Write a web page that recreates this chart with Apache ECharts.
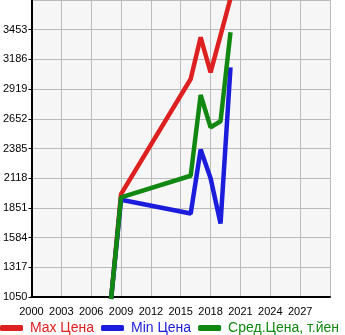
<!DOCTYPE html>
<html><head><meta charset="utf-8">
<script src="https://cdn.jsdelivr.net/npm/echarts@6/dist/echarts.min.js"></script>
<style>html,body{margin:0;padding:0;background:#fff}#c{width:345px;height:335px}</style>
</head><body><div id="c"></div>
<script>
const years = [2008, 2009, 2016, 2017, 2018, 2019, 2020];
const maxPrice = [1030, 1975, 3010, 3385, 3070, null, 3735];
const minPrice = [1030, 1925, 1800, 2375, 2118, 1710, 3115];
const avgPrice = [1030, 1945, 2140, 2866, 2575, 2630, 3430];
const seriesNames = ['Max Цена', 'Min Цена', 'Сред.Цена, т.йен'];
const colors = ['#dd2020', '#1c1cdd', '#118811'];
const FONT = 'Liberation Sans';

function pairs(vals){ const out=[]; years.forEach((y,i)=>{ if(vals[i]!=null) out.push([y, vals[i]]); }); return out; }
const chart = echarts.init(document.getElementById('c'));
chart.setOption({
  animation:false,
  textStyle:{fontFamily:FONT},
  grid:{left:31,right:15,top:0,bottom:38,show:true,backgroundColor:'#f6f6f6',borderWidth:0},
  legend:{left:0,top:321,padding:0,itemGap:7,itemWidth:23,itemHeight:6,icon:'roundRect',
    textStyle:{fontSize:14,fontFamily:FONT,padding:[0,0,0,2]},
    data:seriesNames.map((n,i)=>({name:n,textStyle:{color:colors[i]}}))},
  xAxis:{type:'value',min:2000,max:2030,interval:3,
    axisLine:{lineStyle:{color:'#000',width:2}},axisTick:{show:false},
    axisLabel:{color:'#000',fontSize:11,fontFamily:FONT,showMaxLabel:false,margin:9,formatter:v=>String(v)},
    splitLine:{lineStyle:{color:'#bbbbbb',width:1}}},
  yAxis:{type:'value',min:1050,max:3720,interval:267,
    axisLine:{show:true,lineStyle:{color:'#000',width:2}},
    axisTick:{show:true,length:3,lineStyle:{color:'#000'}},
    axisLabel:{color:'#000',fontSize:11,fontFamily:FONT,showMaxLabel:false,margin:4,formatter:v=>String(v),padding:[0,0,5,0]},
    splitLine:{lineStyle:{color:'#bbbbbb',width:1}}},
  series:[maxPrice,minPrice,avgPrice].map((d,i)=>({
    name:seriesNames[i],type:'line',data:pairs(d),showSymbol:false,symbol:'none',
    lineStyle:{color:colors[i],width:4.5},itemStyle:{color:colors[i]},clip:true
  }))
});
</script></body></html>
